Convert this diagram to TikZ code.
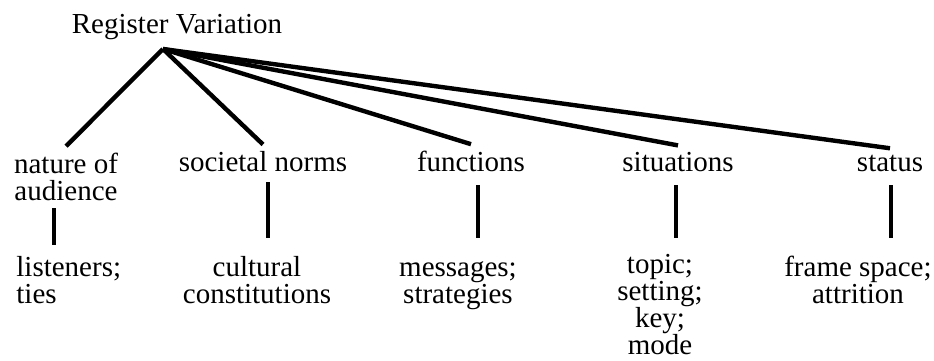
\documentclass[tikz,border=0pt]{standalone}
\usepackage{fontspec}
\setmainfont{Liberation Serif}
\usetikzlibrary{positioning}

\begin{document}
\begin{tikzpicture}[x=0.5pt, y=-0.5pt,
	every node/.style={font=\fontsize{14.5}{13.5}\selectfont, inner sep=3pt, anchor=base},
	branch/.style={line width=2.2pt},
	leg/.style={line width=1.6pt}]
	\useasboundingbox (0,0) rectangle (934,360);

	\node (reg) at (177,33) {Register Variation};
	\coordinate (root) at (163,49);

	\node[align=center] (nat) at (66,200) {nature of\\audience};
	\node (soc) at (263,171) {societal norms};
	\node (fun) at (471,171) {functions};
	\node (sit) at (678,171) {situations};
	\node (sta) at (890,171) {status};

	\node[align=left, anchor=base west] (lis) at (10,303) {listeners;\\ties};
	\node[align=center] (cul) at (257,303) {cultural\\constitutions};
	\node[align=center] (mes) at (458,303) {messages;\\strategies};
	\node[align=center] (top) at (660,354) {topic;\\setting;\\key;\\mode};
	\node[align=center] (fra) at (858,303) {frame space;\\attrition};

	\coordinate (vnat) at (54,0);
	\coordinate (vsoc) at (268,0);
	\coordinate (vfun) at (478,0);
	\coordinate (vsit) at (676,0);
	\coordinate (vsta) at (891,0);

	\foreach \n in {nat, soc, fun, sit, sta}
		\draw[branch] (root) -- (\n.north);

	\draw[leg] ([yshift=-4pt]vnat |- nat.base) -- ([yshift=29pt]vnat |- lis.base);
	\draw[leg] ([yshift=-5.5pt]vsoc |- soc.base) -- ([yshift=32.5pt]vsoc |- cul.base);
	\draw[leg] ([yshift=-7pt]vfun |- fun.base) -- ([yshift=32.5pt]vfun |- mes.base);
	\draw[leg] ([yshift=-7pt]vsit |- sit.base) -- ([yshift=58pt]vsit |- top.base);
	\draw[leg] ([yshift=-7pt]vsta |- sta.base) -- ([yshift=32.5pt]vsta |- fra.base);
\end{tikzpicture}
\end{document}
